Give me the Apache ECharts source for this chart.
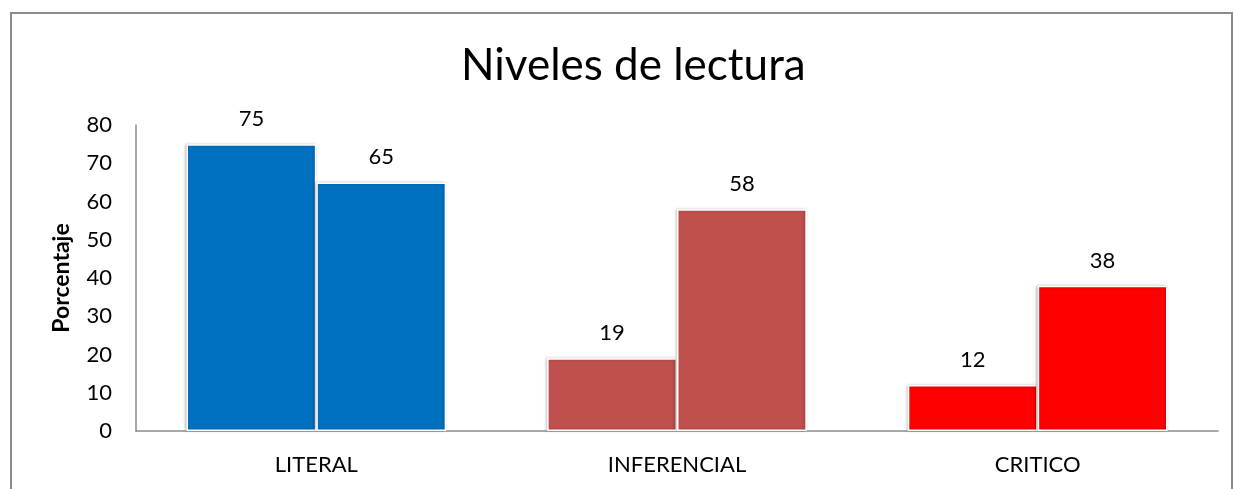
<!DOCTYPE html>
<html>
<head>
<meta charset="utf-8">
<script src="https://cdn.jsdelivr.net/npm/echarts@6/dist/echarts.min.js"></script>
<style>
  html, body { margin: 0; padding: 0; background: #fff; }
  #chart { width: 1235px; height: 489px; }
</style>
</head>
<body>
<div id="chart"></div>
<script>
// datos del gráfico
const categories = ['LITERAL', 'INFERENCIAL', 'CRITICO']
const serieA = [75, 19, 12]
const serieB = [65, 58, 38]
const categoryColors = ['#0070C0', '#C0504D', '#FF0000']
const yTicks = { min: 0, max: 80, interval: 10 }

const font = 'Lato, "Open Sans", sans-serif'

function barSeries(values) {
  return {
    type: 'bar',
    data: values,
    barGap: '0%',
    barCategoryGap: '28%',
    itemStyle: {
      color: p => categoryColors[p.dataIndex],
      borderColor: '#fff',
      borderWidth: 1.5,
      shadowColor: 'rgba(0,0,0,0.25)',
      shadowBlur: 3,
      shadowOffsetX: -1
    },
    label: {
      show: true,
      position: 'top',
      distance: 14,
      color: '#000',
      fontFamily: font,
      fontSize: 22
    }
  }
}

const chart = echarts.init(document.getElementById('chart'))
chart.setOption({
  animation: false,
  title: {
    text: 'Niveles de lectura',
    left: 456,
    top: 39,
    textStyle: { fontFamily: font, fontSize: 44, fontWeight: 'normal', color: '#000' }
  },
  graphic: [{
    type: 'rect',
    shape: { x: 11, y: 13, width: 1221, height: 500 },
    style: { fill: 'none', stroke: '#8c8c8c', lineWidth: 2 },
    silent: true
  }],
  grid: { left: 136, right: 17, top: 125, bottom: 58 },
  xAxis: {
    type: 'category',
    data: categories,
    axisLine: { lineStyle: { color: '#8c8c8c', width: 1.5 } },
    axisTick: { show: false },
    axisLabel: { color: '#000', fontFamily: font, fontSize: 22, margin: 23 }
  },
  yAxis: {
    type: 'value',
    min: yTicks.min,
    max: yTicks.max,
    interval: yTicks.interval,
    name: 'Porcentaje',
    nameLocation: 'middle',
    nameGap: 63,
    nameTextStyle: { fontFamily: font, fontSize: 23, fontWeight: 'bold', color: '#000' },
    axisLine: { show: true, lineStyle: { color: '#8c8c8c', width: 1.5 } },
    axisTick: { show: false },
    splitLine: { show: false },
    axisLabel: { color: '#000', fontFamily: font, fontSize: 22, margin: 24 }
  },
  series: [barSeries(serieA), barSeries(serieB)]
})
</script>
</body>
</html>
